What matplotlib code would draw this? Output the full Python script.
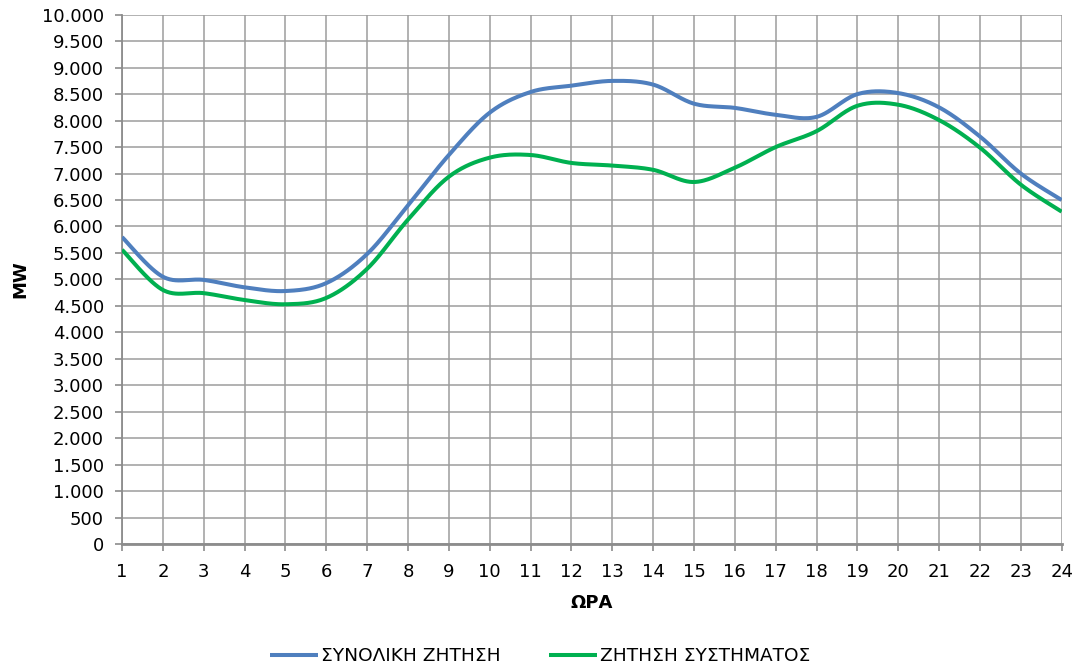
import numpy as np
import matplotlib
matplotlib.use("Agg")
import matplotlib.pyplot as plt
from matplotlib.ticker import FuncFormatter, MultipleLocator

hours = list(range(1, 25))
total_demand = [5800, 5050, 4990, 4850, 4780, 4930, 5480, 6400, 7350, 8150, 8540, 8660,
                8750, 8680, 8320, 8240, 8110, 8070, 8500, 8520, 8250, 7700, 7000, 6500]
system_demand = [5560, 4800, 4740, 4610, 4530, 4650, 5200, 6130, 6940, 7300, 7350, 7200,
                 7150, 7070, 6840, 7110, 7500, 7800, 8280, 8300, 8010, 7490, 6790, 6280]
labels = ["ΣΥΝΟΛΙΚΗ ΖΗΤΗΣΗ", "ΖΗΤΗΣΗ ΣΥΣΤΗΜΑΤΟΣ"]
colors = ["#4F7FBE", "#00B050"]


def smooth(x, y, n=30):
    """Excel-like smoothed line: cubic Bezier between points (tension 1/6)."""
    x = np.asarray(x, float)
    y = np.asarray(y, float)
    P = np.column_stack([x, y])
    out = []
    m = len(P)
    t = np.linspace(0, 1, n)[:, None]
    for i in range(m - 1):
        p0 = P[i]
        p3 = P[i + 1]
        pm = P[i - 1] if i > 0 else P[i]
        pp = P[i + 2] if i + 2 < m else P[i + 1]
        c1 = p0 + (p3 - pm) / 6.0
        c2 = p3 - (pp - p0) / 6.0
        seg = ((1 - t) ** 3) * p0 + 3 * ((1 - t) ** 2) * t * c1 + 3 * (1 - t) * t ** 2 * c2 + t ** 3 * p3
        out.append(seg if i == 0 else seg[1:])
    out = np.vstack(out)
    return out[:, 0], out[:, 1]


plt.rcParams['font.family'] = ['DejaVu Sans']
fig = plt.figure(figsize=(10.8, 6.7), dpi=100)
ax = fig.add_axes([0.113, 0.188, 0.870, 0.790])

for series, lab, col in zip([total_demand, system_demand], labels, colors):
    sx, sy = smooth(hours, series)
    ax.plot(sx, sy, color=col, lw=2.9, label=lab, solid_capstyle='butt', zorder=3)

ax.set_xlim(1, 24)
ax.set_ylim(0, 10000)
ax.xaxis.set_major_locator(MultipleLocator(1))
ax.yaxis.set_major_locator(MultipleLocator(500))
ax.yaxis.set_major_formatter(FuncFormatter(lambda v, p: f"{int(v):,}".replace(",", ".")))

ax.grid(True, color="#9C9C9C", lw=1.1)
ax.set_axisbelow(True)
for s in ["top", "right"]:
    ax.spines[s].set_visible(False)
ax.spines["left"].set_color("#8C8C8C")
ax.spines["left"].set_linewidth(1.3)
ax.spines["bottom"].set_color("#8C8C8C")
ax.spines["bottom"].set_linewidth(2.0)
ax.tick_params(axis="both", colors="#8C8C8C", labelcolor="black", labelsize=13,
               length=5, width=1.2, direction="out")
ax.tick_params(axis="x", pad=9)
ax.tick_params(axis="y", pad=8)

ax.set_xlabel("ΩΡΑ", fontsize=13, fontweight="bold", labelpad=9)
ax.set_ylabel("MW", fontsize=13, fontweight="bold", labelpad=9)

fig.legend(loc="lower center", bbox_to_anchor=(0.5, -0.018), ncol=2, frameon=False,
           fontsize=13.3, handlelength=2.6, columnspacing=2.6, handletextpad=0.15)

fig.savefig("out.png", dpi=100)
